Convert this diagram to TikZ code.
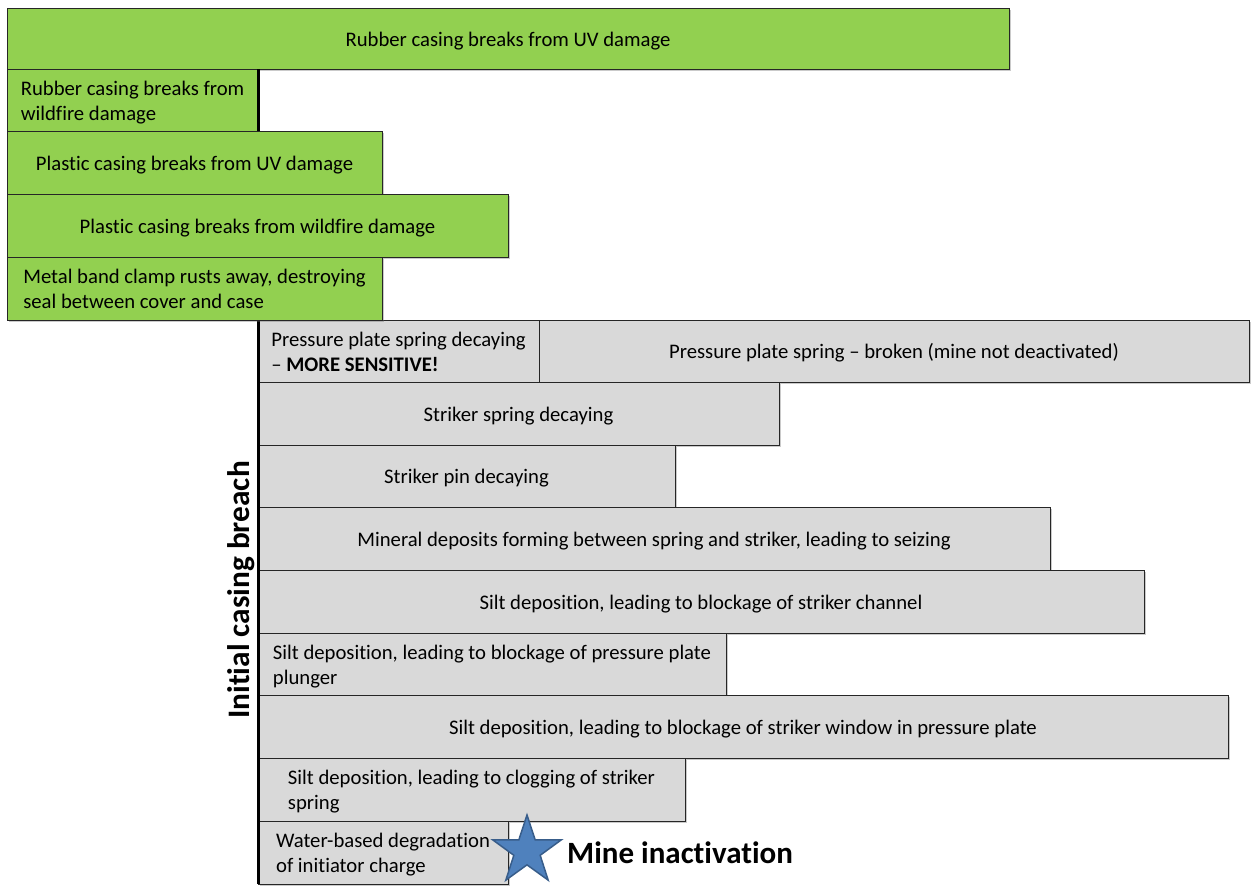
\documentclass[tikz,border=0pt]{standalone}
\usepackage{fontspec}
\setmainfont{Carlito}[Ligatures={NoCommon}]
\usetikzlibrary{shapes.geometric,shadows}
\definecolor{barGreen}{HTML}{92D050}
\definecolor{barGray}{HTML}{D9D9D9}
\definecolor{starBlue}{HTML}{4F81BD}
\definecolor{starEdge}{HTML}{385D8A}
\newcommand{\bartext}[1]{\raisebox{0pt}[\dimexpr\height+5.5pt\relax][\depth]{\def\arraystretch{1}\begin{tabular}{@{}l@{}}#1\end{tabular}}}
\tikzset{
  bar/.style={draw=black!85, line width=0.9pt, inner sep=0pt, outer sep=0pt,
    anchor=north west, align=left, font=\fontsize{20.7}{25}\selectfont,
    drop shadow={shadow xshift=1.6pt, shadow yshift=-1.6pt, opacity=0.35, fill=black!60}},
  greenbar/.style={bar, fill=barGreen},
  graybar/.style={bar, fill=barGray},
  axisline/.style={line width=3pt, black},
}
\begin{document}
\begin{tikzpicture}[x=1pt,y=-1pt]
\useasboundingbox (0,0) rectangle (1251,886);
% green bars (top)
\node[greenbar, minimum width=1002, minimum height=61] (b1) at (7,8) {\bartext{Rubber casing breaks from UV damage}};
\node[greenbar, minimum width=251, minimum height=62] (b2) at (7,69) {\bartext{Rubber casing breaks from\\wildfire damage}};
% gray bars
\node[graybar, minimum width=281, minimum height=62] (g1) at (258,320) {\bartext{Pressure plate spring decaying\\– \textbf{MORE SENSITIVE!}}};
\node[graybar, minimum width=710, minimum height=62] (g2) at (539,320) {\bartext{Pressure plate spring – broken (mine not deactivated)}};
\node[graybar, minimum width=521, minimum height=63] (g3) at (258,382) {\bartext{Striker spring decaying}};
\node[graybar, minimum width=417, minimum height=62] (g4) at (258,445) {\bartext{Striker pin decaying}};
\node[graybar, minimum width=792, minimum height=63] (g5) at (258,507) {\bartext{Mineral deposits forming between spring and striker, leading to seizing}};
\node[graybar, minimum width=886, minimum height=63] (g6) at (258,570) {\bartext{Silt deposition, leading to blockage of striker channel}};
\node[graybar, minimum width=468, minimum height=62] (g7) at (258,633) {\bartext{Silt deposition, leading to blockage of pressure plate\\plunger}};
\node[graybar, minimum width=970, minimum height=63] (g8) at (258,695) {\bartext{Silt deposition, leading to blockage of striker window in pressure plate}};
\node[graybar, minimum width=427, minimum height=63] (g9) at (258,758) {\bartext{Silt deposition, leading to clogging of striker\\spring}};
\node[graybar, minimum width=250, minimum height=63] (g10) at (258,821) {\bartext{Water-based degradation\\of initiator charge}};
% thick vertical axis
\draw[axisline] (b2.north east) -- (g10.south west);
% remaining green bars (over the axis)
\node[greenbar, minimum width=375, minimum height=63] (b3) at (7,131) {\bartext{Plastic casing breaks from UV damage}};
\node[greenbar, minimum width=501, minimum height=63] (b4) at (7,194) {\bartext{Plastic casing breaks from wildfire damage}};
\node[greenbar, minimum width=375, minimum height=63] (b5) at (7,257) {\bartext{Metal band clamp rusts away, destroying\\seal between cover and case}};
% axis label
\node[rotate=90, inner sep=0pt, font=\fontsize{31.3}{36}\selectfont\bfseries] (axislabel) at (241,590) {Initial casing breach};
% star and label
\node[star, star points=5, star point ratio=2.6, minimum size=72, inner sep=0pt,
      fill=starBlue, draw=starEdge, line width=1.5pt] (star) at (527,851) {};
\node[anchor=west, inner sep=0pt, font=\fontsize{31}{36}\selectfont\bfseries] (mine) at (567,853) {Mine inactivation};
\end{tikzpicture}
\end{document}
